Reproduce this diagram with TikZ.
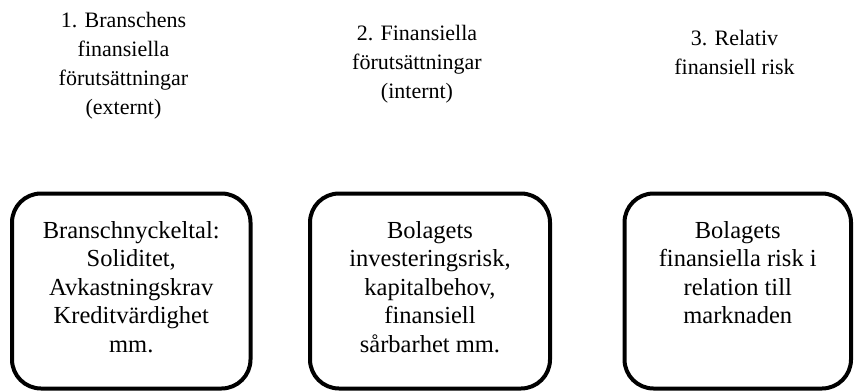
\documentclass[tikz,border=0pt]{standalone}
\usepackage{fontspec}
\setmainfont{Liberation Serif}
\begin{document}
\begin{tikzpicture}[x=1pt,y=-1pt,
  box/.style={draw=black,line width=4pt,rounded corners=29pt,fill=none,inner sep=0pt},
  boxtext/.style={align=center,inner sep=0pt,anchor=north,font=\fontsize{24.5}{28.5}\selectfont},
  head/.style={align=center,inner sep=0pt,anchor=north,font=\fontsize{22}{29}\selectfont}]
\useasboundingbox (0,0) rectangle (854,391);
% headers
\node[head] (h1) at (123.5,11.8) {1. Branschens\\finansiella\\förutsättningar\\(externt)};
\node[head] (h2) at (417,24.8) {2. Finansiella\\förutsättningar\\(internt)};
\node[head] (h3) at (734.5,29.8) {3. Relativ\\finansiell risk};
% boxes
\draw[box] (12,193.5) rectangle (250.5,388.5);
\node[box,draw=none,minimum width=238.5pt,minimum height=195pt] (b1) at (131.25,291) {};
\draw[box] (310,193.5) rectangle (550,388.5);
\node[box,draw=none,minimum width=240pt,minimum height=195pt] (b2) at (430,291) {};
\draw[box] (624.5,193.5) rectangle (851,388.5);
\node[box,draw=none,minimum width=226.5pt,minimum height=195pt] (b3) at (737.75,291) {};
% box texts
\node[boxtext] (t1) at ([yshift=-29.6pt]b1.north) {Branschnyckeltal:\\Soliditet,\\Avkastningskrav\\Kreditvärdighet\\mm.};
\node[boxtext] (t2) at ([yshift=-29.6pt]b2.north) {Bolagets\\investeringsrisk,\\kapitalbehov,\\finansiell\\sårbarhet mm.};
\node[boxtext] (t3) at ([yshift=-29.6pt]b3.north) {Bolagets\\finansiella risk i\\relation till\\marknaden};
\end{tikzpicture}
\end{document}
